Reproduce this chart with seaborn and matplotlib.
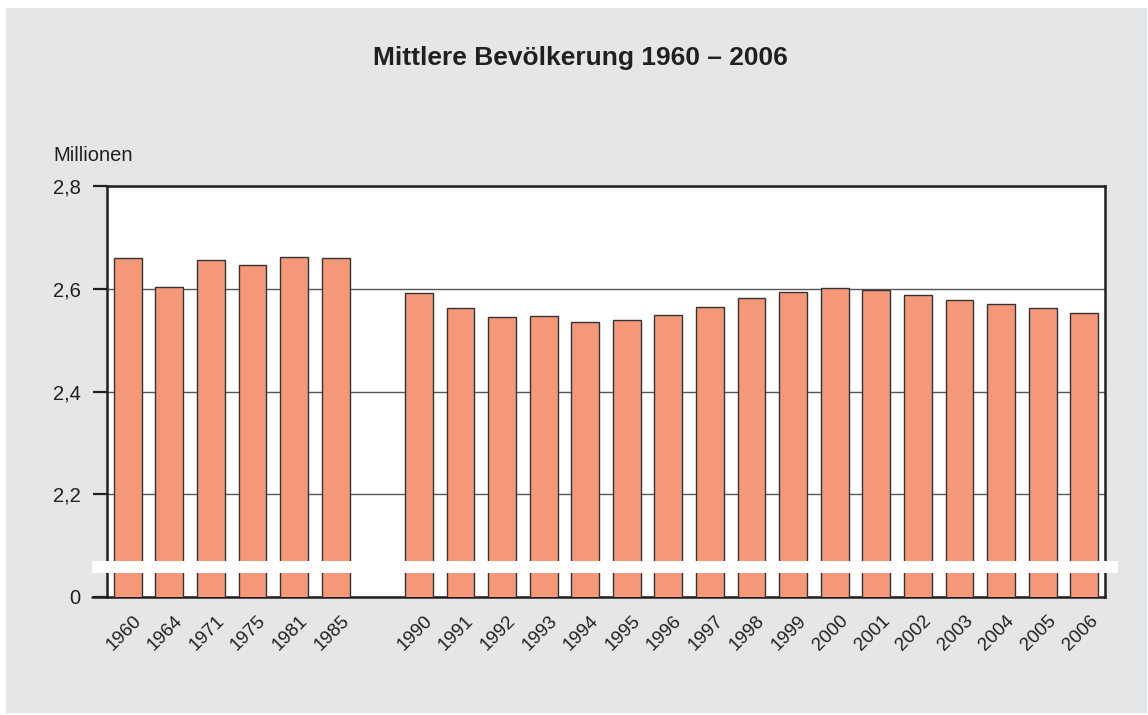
import matplotlib
matplotlib.use("Agg")
import matplotlib.pyplot as plt
import matplotlib.transforms as mtransforms
from matplotlib.patches import Rectangle
import seaborn as sns
import pandas as pd

# Data (Millionen); the axis is broken between 0 and 2,0
years = ["1960", "1964", "1971", "1975", "1981", "1985",
         "1990", "1991", "1992", "1993", "1994", "1995", "1996", "1997",
         "1998", "1999", "2000", "2001", "2002", "2003", "2004", "2005", "2006"]
population = [2.660, 2.603, 2.656, 2.646, 2.662, 2.660,
              2.592, 2.563, 2.545, 2.547, 2.535, 2.539, 2.549, 2.564,
              2.582, 2.594, 2.601, 2.598, 2.588, 2.578, 2.570, 2.563, 2.553]
# empty slot between 1985 and 1990
order = years[:6] + [" "] + years[6:]
ytick_vals = [2.0, 2.2, 2.4, 2.6, 2.8]
ytick_labels = ["0", "2,2", "2,4", "2,6", "2,8"]

df = pd.DataFrame({"Jahr": years, "Bevoelkerung": population})

sns.set_style("white")
plt.rcParams["font.family"] = ["Liberation Sans", "DejaVu Sans"]
ink = "#231f20"
plt.rcParams["text.color"] = ink
plt.rcParams["xtick.color"] = ink
plt.rcParams["ytick.color"] = ink

fig = plt.figure(figsize=(11.48, 7.15), dpi=100, facecolor="white")
# gray panel behind everything
fig.patches.append(Rectangle((6 / 1148, 1 - 713 / 715), 1141 / 1148, 705 / 715,
                             transform=fig.transFigure, facecolor="#e5e6e8",
                             edgecolor="none", zorder=-5))
ax = fig.add_axes([107 / 1148, 1 - 597 / 715, 998 / 1148, 411 / 715])
ax.set_facecolor("white")

sns.barplot(data=df, x="Jahr", y="Bevoelkerung", order=order, color="#f5987a",
            saturation=1, width=0.67, edgecolor="#333333", linewidth=1.0, ax=ax,
            zorder=3)

ax.set_ylim(2.0, 2.8)
ax.set_xlim(-0.5, len(order) - 0.5)
ax.set_yticks(ytick_vals)
ax.set_yticklabels(ytick_labels, fontsize=14.5)
ax.yaxis.grid(True, color="#555555", linewidth=1.0, zorder=1)
ax.set_axisbelow(True)
ax.tick_params(axis="y", length=10, width=1.6, color=ink, pad=9, left=True)
ax.tick_params(axis="x", length=0, pad=11)
ax.set_xlabel("")
ax.set_ylabel("")
for s in ax.spines.values():
    s.set_color(ink)
    s.set_linewidth(1.8)
    s.set_visible(True)

offset = mtransforms.ScaledTranslation(-4 / 100, 0, fig.dpi_scale_trans)
for lab in ax.get_xticklabels():
    lab.set_rotation(45)
    lab.set_ha("center")
    lab.set_fontsize(13.5)
    lab.set_transform(lab.get_transform() + offset)

# bottom spine / tick extends left like the y ticks
ax.plot([-0.015, 0], [0, 0], transform=ax.transAxes, color=ink,
        linewidth=1.8, clip_on=False, zorder=5)

# white band marking the axis break
brk = mtransforms.blended_transform_factory(ax.transAxes, ax.transData)
ax.add_patch(Rectangle((-0.015, 2.047), 1.028, 0.023, transform=brk,
                       facecolor="white", edgecolor="none", clip_on=False, zorder=10))

fig.text(53 / 1148, 1 - 161 / 715, "Millionen", fontsize=14.5, va="baseline", ha="left")
fig.text(580 / 1148, 1 - 58 / 715, "Mittlere Bevölkerung 1960 – 2006", fontsize=19,
         fontweight="bold", ha="center", va="center")

fig.savefig("out.png", dpi=100, facecolor=fig.get_facecolor())
